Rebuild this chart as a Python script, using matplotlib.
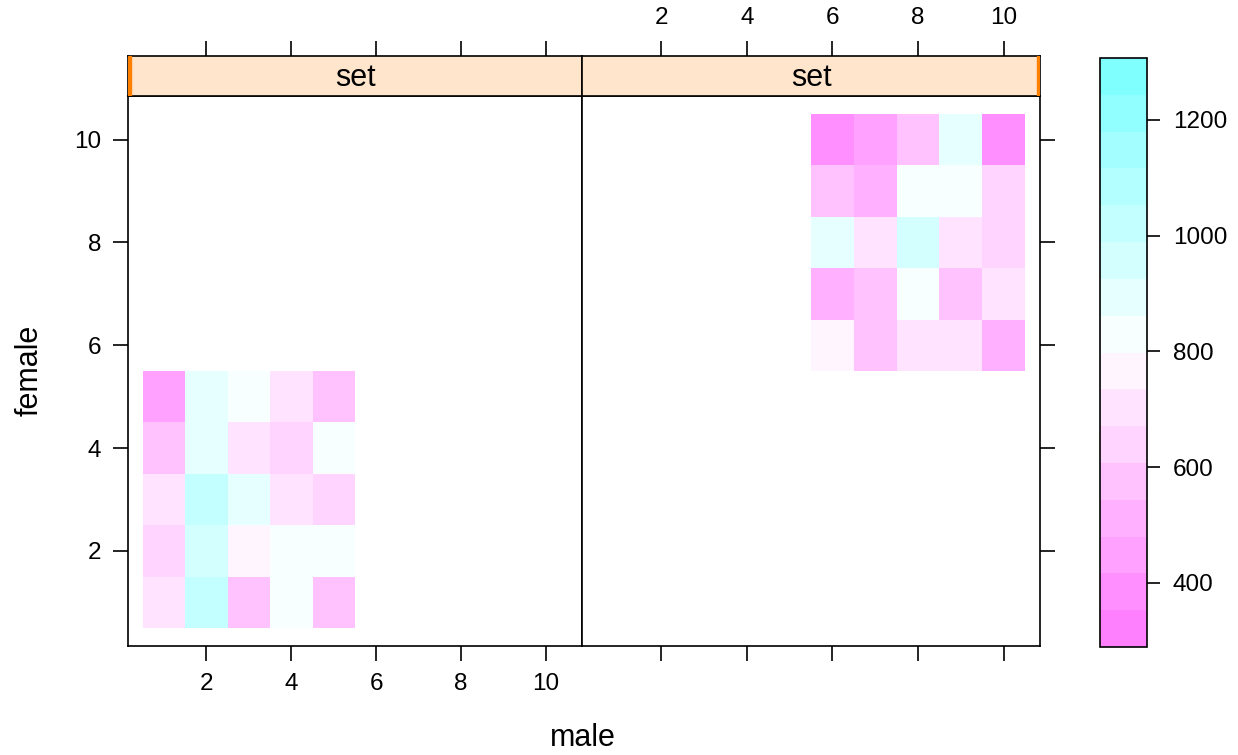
import colorsys
import matplotlib
matplotlib.use("Agg")
import matplotlib.pyplot as plt
import numpy as np
from matplotlib.colors import ListedColormap, BoundaryNorm
from matplotlib.patches import Rectangle

plt.rcParams['font.family'] = ['Liberation Sans', 'DejaVu Sans']

# data
male_1 = [1, 2, 3, 4, 5]
female_1 = [1, 2, 3, 4, 5]
# rows = female 1..5, cols = male 1..5
z_1 = [[703, 1021, 576, 830, 576],
       [639, 957, 766, 830, 830],
       [703, 1021, 894, 703, 639],
       [576, 894, 703, 639, 830],
       [449, 894, 830, 703, 576]]

male_2 = [6, 7, 8, 9, 10]
female_2 = [6, 7, 8, 9, 10]
z_2 = [[766, 576, 703, 703, 512],
       [512, 576, 830, 576, 703],
       [894, 703, 957, 703, 639],
       [576, 512, 830, 830, 639],
       [385, 449, 576, 894, 385]]

strip_labels = ["set", "set"]
x_ticks = [2, 4, 6, 8, 10]
y_ticks = [2, 4, 6, 8, 10]
key_ticks = [400, 600, 800, 1000, 1200]
key_lo, key_hi = 289.4, 1307.0

# cm.colors(100), reversed so low = magenta
cols = []
for j in range(1, 101):
    if j <= 50:
        s = (51 - j) * 0.01
        cols.append(colorsys.hsv_to_rgb(10 / 12, s, 1))
    else:
        s = 0.5 - (100 - j) * 0.01
        cols.append(colorsys.hsv_to_rgb(0.5, s, 1))
idx = np.floor(np.linspace(1, 100, 16)).astype(int) - 1
cmap = ListedColormap([cols[i] for i in idx])
bounds = np.linspace(key_lo, key_hi, 17)
norm = BoundaryNorm(bounds, cmap.N)

W, H = 1238, 755
fig = plt.figure(figsize=(W / 100, H / 100), dpi=100)


def box(x0, x1, y0, y1):
    return [x0 / W, 1 - y1 / H, (x1 - x0) / W, (y1 - y0) / H]


lim = (0.15, 10.85)
fs = 17.5
fl = 22
tl = 10.5
tp = 9
panels = [(128, 582, male_1, female_1, z_1), (582, 1040, male_2, female_2, z_2)]
for i, (px0, px1, mx, fy, z) in enumerate(panels):
    ax = fig.add_axes(box(px0, px1, 96, 646))
    mesh = ax.pcolormesh(mx, fy, np.array(z), cmap=cmap, norm=norm, shading='nearest')
    ax.set_xlim(lim)
    ax.set_ylim(lim)
    ax.set_xticks(x_ticks)
    ax.set_yticks(y_ticks)
    ax.tick_params(direction='out', length=tl, width=1.2, labelsize=fs, pad=tp)
    for sp in ax.spines.values():
        sp.set_linewidth(1.2)
    if i == 0:
        ax.tick_params(left=True, labelleft=True, right=False, bottom=True, labelbottom=True)
    else:
        ax.tick_params(left=False, labelleft=False, right=True, labelright=False,
                       bottom=True, labelbottom=False)

    st = fig.add_axes(box(px0, px1, 56, 96))
    st.set_facecolor('#ffe5cc')
    st.set_xlim(lim)
    st.set_ylim(0, 1)
    st.set_yticks([])
    st.set_xticks(x_ticks)
    st.tick_params(direction='out', length=tl, width=1.2, labelsize=fs, pad=tp,
                   bottom=False, labelbottom=False, top=True, labeltop=(i == 1))
    for sp in st.spines.values():
        sp.set_linewidth(1.2)
    st.text(0.5, 0.45, strip_labels[i], transform=st.transAxes, ha='center', va='center',
            fontsize=fl)
    bar_x = 0.0 if i == 0 else 1 - 0.007
    st.add_patch(Rectangle((bar_x, 0), 0.007, 1, transform=st.transAxes,
                           color='#ff7f00', zorder=3))

cax = fig.add_axes(box(1100, 1147, 58, 647))
cb = fig.colorbar(mesh, cax=cax, ticks=key_ticks)
cb.outline.set_linewidth(1.2)
cax.minorticks_off()
cax.tick_params(direction='out', length=tl - 1, width=1.2, labelsize=fs, pad=tp)

fig.text(583 / W, 1 - 738 / H, "male", ha='center', va='center', fontsize=fl)
fig.text(30 / W, 1 - 370 / H, "female", ha='center', va='center', rotation=90,
         fontsize=fl)

fig.savefig("out.png", dpi=100)
